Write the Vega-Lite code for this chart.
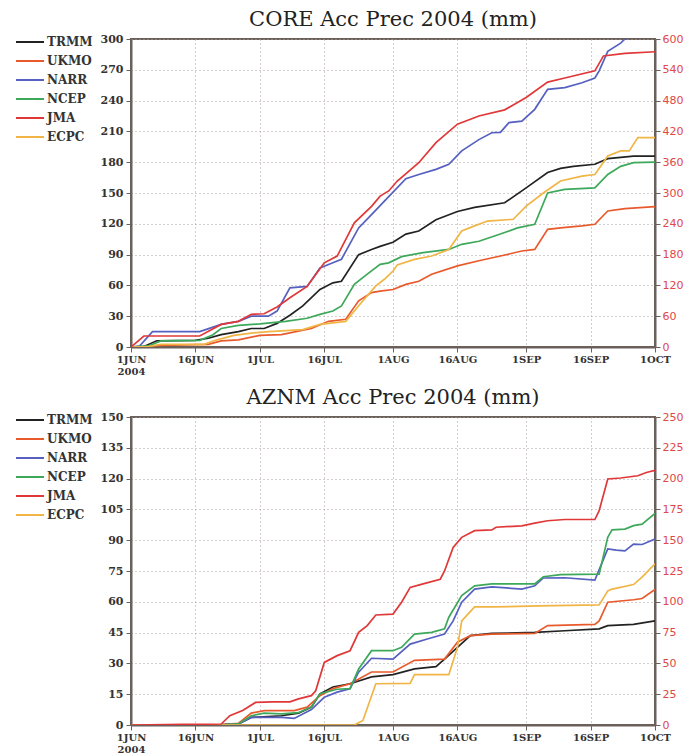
{
  "$schema": "https://vega.github.io/schema/vega-lite/v6.json",
  "padding": {"left": 14, "top": 8, "right": 0, "bottom": 0},
  "background": "white",
  "config": {
    "view": {"stroke": "#6b605b", "strokeWidth": 2},
    "title": {"font": "DejaVu Serif", "fontSize": 21, "fontWeight": "normal", "color": "#222", "offset": 3},
    "axis": {"domainColor": "#6b605b", "domainWidth": 2, "tickColor": "#6b605b", "tickSize": 5, "labelColor": "#333"}
  },
  "datasets": {
    "core": [
      {"model":"TRMM","day":0,"value":0},{"model":"TRMM","day":3,"value":0.5},{"model":"TRMM","day":6,"value":6},{"model":"TRMM","day":15,"value":6.5},{"model":"TRMM","day":18,"value":8.5},{"model":"TRMM","day":21,"value":12},{"model":"TRMM","day":25,"value":15},{"model":"TRMM","day":28,"value":18},{"model":"TRMM","day":31,"value":18},{"model":"TRMM","day":34,"value":23},{"model":"TRMM","day":37,"value":31},{"model":"TRMM","day":40,"value":40},{"model":"TRMM","day":44,"value":56},{"model":"TRMM","day":47,"value":62.5},{"model":"TRMM","day":49,"value":64},{"model":"TRMM","day":53,"value":90},{"model":"TRMM","day":56,"value":95},{"model":"TRMM","day":58,"value":98},{"model":"TRMM","day":61,"value":102},{"model":"TRMM","day":64,"value":110},{"model":"TRMM","day":67,"value":113},{"model":"TRMM","day":71,"value":124},{"model":"TRMM","day":76,"value":132},{"model":"TRMM","day":80,"value":136},{"model":"TRMM","day":87,"value":140.5},{"model":"TRMM","day":92,"value":155},{"model":"TRMM","day":97,"value":170},{"model":"TRMM","day":100,"value":174},{"model":"TRMM","day":103,"value":176},{"model":"TRMM","day":108,"value":178},{"model":"TRMM","day":111,"value":183.5},{"model":"TRMM","day":117,"value":186},{"model":"TRMM","day":122,"value":186},
      {"model":"UKMO","day":0,"value":0},{"model":"UKMO","day":7,"value":1.6},{"model":"UKMO","day":18,"value":2.6},{"model":"UKMO","day":21,"value":6},{"model":"UKMO","day":25,"value":7},{"model":"UKMO","day":30,"value":11.3},{"model":"UKMO","day":35,"value":12},{"model":"UKMO","day":42,"value":18},{"model":"UKMO","day":46,"value":25},{"model":"UKMO","day":50,"value":27},{"model":"UKMO","day":53,"value":45},{"model":"UKMO","day":56,"value":53},{"model":"UKMO","day":58,"value":54.5},{"model":"UKMO","day":61,"value":56},{"model":"UKMO","day":64,"value":61},{"model":"UKMO","day":67,"value":64},{"model":"UKMO","day":70,"value":70.8},{"model":"UKMO","day":76,"value":79},{"model":"UKMO","day":81,"value":84},{"model":"UKMO","day":86,"value":88.6},{"model":"UKMO","day":91,"value":93.5},{"model":"UKMO","day":94,"value":95},{"model":"UKMO","day":97,"value":114.6},{"model":"UKMO","day":100,"value":116},{"model":"UKMO","day":105,"value":118},{"model":"UKMO","day":108,"value":119.5},{"model":"UKMO","day":111,"value":132.5},{"model":"UKMO","day":115,"value":134.7},{"model":"UKMO","day":122,"value":136.7},
      {"model":"NARR","day":0,"value":0},{"model":"NARR","day":2,"value":1},{"model":"NARR","day":5,"value":15},{"model":"NARR","day":16,"value":15},{"model":"NARR","day":21,"value":22},{"model":"NARR","day":25,"value":25},{"model":"NARR","day":28,"value":30},{"model":"NARR","day":32,"value":30},{"model":"NARR","day":34,"value":35},{"model":"NARR","day":37,"value":57.6},{"model":"NARR","day":41,"value":59},{"model":"NARR","day":44,"value":77},{"model":"NARR","day":47,"value":82},{"model":"NARR","day":49,"value":85.5},{"model":"NARR","day":53,"value":116},{"model":"NARR","day":56,"value":129},{"model":"NARR","day":59,"value":142},{"model":"NARR","day":64,"value":164},{"model":"NARR","day":67,"value":168},{"model":"NARR","day":71,"value":173},{"model":"NARR","day":74,"value":178},{"model":"NARR","day":77,"value":191},{"model":"NARR","day":81,"value":202},{"model":"NARR","day":84,"value":208.7},{"model":"NARR","day":86,"value":209},{"model":"NARR","day":88,"value":218.5},{"model":"NARR","day":91,"value":220},{"model":"NARR","day":94,"value":231.5},{"model":"NARR","day":97,"value":251},{"model":"NARR","day":101,"value":252.6},{"model":"NARR","day":105,"value":257.4},{"model":"NARR","day":108,"value":262},{"model":"NARR","day":109,"value":269},{"model":"NARR","day":111,"value":288},{"model":"NARR","day":114,"value":296},{"model":"NARR","day":115,"value":300},{"model":"NARR","day":118,"value":305},{"model":"NARR","day":122,"value":310},
      {"model":"NCEP","day":0,"value":0},{"model":"NCEP","day":4,"value":1},{"model":"NCEP","day":7,"value":6},{"model":"NCEP","day":16,"value":6.5},{"model":"NCEP","day":19,"value":11.7},{"model":"NCEP","day":21,"value":18},{"model":"NCEP","day":25,"value":21},{"model":"NCEP","day":30,"value":22.5},{"model":"NCEP","day":36,"value":25},{"model":"NCEP","day":41,"value":28},{"model":"NCEP","day":44,"value":31.8},{"model":"NCEP","day":47,"value":35},{"model":"NCEP","day":49,"value":40},{"model":"NCEP","day":52,"value":61},{"model":"NCEP","day":55,"value":71},{"model":"NCEP","day":58,"value":80.5},{"model":"NCEP","day":60,"value":82},{"model":"NCEP","day":63,"value":88},{"model":"NCEP","day":68,"value":92},{"model":"NCEP","day":74,"value":95},{"model":"NCEP","day":77,"value":100},{"model":"NCEP","day":81,"value":103},{"model":"NCEP","day":86,"value":110},{"model":"NCEP","day":90,"value":116},{"model":"NCEP","day":94,"value":119.5},{"model":"NCEP","day":97,"value":150},{"model":"NCEP","day":101,"value":153.6},{"model":"NCEP","day":108,"value":155},{"model":"NCEP","day":111,"value":168},{"model":"NCEP","day":114,"value":176},{"model":"NCEP","day":117,"value":179.5},{"model":"NCEP","day":122,"value":180},
      {"model":"JMA","day":0,"value":0},{"model":"JMA","day":3,"value":21.4},{"model":"JMA","day":16,"value":21.4},{"model":"JMA","day":21,"value":44},{"model":"JMA","day":25,"value":50},{"model":"JMA","day":28,"value":63.6},{"model":"JMA","day":31,"value":64.8},{"model":"JMA","day":34,"value":78},{"model":"JMA","day":37,"value":96},{"model":"JMA","day":41,"value":118},{"model":"JMA","day":45,"value":164},{"model":"JMA","day":48,"value":177.2},{"model":"JMA","day":52,"value":242},{"model":"JMA","day":56,"value":274},{"model":"JMA","day":58,"value":294},{"model":"JMA","day":60,"value":304},{"model":"JMA","day":62,"value":323.4},{"model":"JMA","day":67,"value":359},{"model":"JMA","day":71,"value":398},{"model":"JMA","day":76,"value":434},{"model":"JMA","day":81,"value":450},{"model":"JMA","day":87,"value":462},{"model":"JMA","day":92,"value":486},{"model":"JMA","day":97,"value":516},{"model":"JMA","day":101,"value":524},{"model":"JMA","day":108,"value":538},{"model":"JMA","day":110,"value":567},{"model":"JMA","day":115,"value":572},{"model":"JMA","day":122,"value":575.2},
      {"model":"ECPC","day":0,"value":0},{"model":"ECPC","day":4,"value":0.5},{"model":"ECPC","day":7,"value":2.6},{"model":"ECPC","day":17,"value":2.6},{"model":"ECPC","day":20,"value":7},{"model":"ECPC","day":24,"value":11.3},{"model":"ECPC","day":28,"value":13.6},{"model":"ECPC","day":32,"value":15},{"model":"ECPC","day":40,"value":17},{"model":"ECPC","day":44,"value":22},{"model":"ECPC","day":50,"value":25},{"model":"ECPC","day":52,"value":35},{"model":"ECPC","day":54,"value":45},{"model":"ECPC","day":57,"value":59.5},{"model":"ECPC","day":59,"value":66},{"model":"ECPC","day":61,"value":74},{"model":"ECPC","day":62,"value":80},{"model":"ECPC","day":66,"value":85.4},{"model":"ECPC","day":70,"value":88.6},{"model":"ECPC","day":74,"value":95},{"model":"ECPC","day":77,"value":113},{"model":"ECPC","day":80,"value":118},{"model":"ECPC","day":83,"value":122.7},{"model":"ECPC","day":89,"value":124.4},{"model":"ECPC","day":92,"value":137.3},{"model":"ECPC","day":96,"value":150},{"model":"ECPC","day":100,"value":161.7},{"model":"ECPC","day":105,"value":166.5},{"model":"ECPC","day":108,"value":168},{"model":"ECPC","day":111,"value":186},{"model":"ECPC","day":114,"value":191},{"model":"ECPC","day":116,"value":191},{"model":"ECPC","day":118,"value":204},{"model":"ECPC","day":122,"value":204}
    ],
    "aznm": [
      {"model":"TRMM","day":0,"value":0},{"model":"TRMM","day":21,"value":0.2},{"model":"TRMM","day":25,"value":0.5},{"model":"TRMM","day":28,"value":3.7},{"model":"TRMM","day":35,"value":4.5},{"model":"TRMM","day":39,"value":5.8},{"model":"TRMM","day":42,"value":8.7},{"model":"TRMM","day":44,"value":15.2},{"model":"TRMM","day":47,"value":18.5},{"model":"TRMM","day":51,"value":20.1},{"model":"TRMM","day":56,"value":23.4},{"model":"TRMM","day":61,"value":24.5},{"model":"TRMM","day":66,"value":27.3},{"model":"TRMM","day":71,"value":28.4},{"model":"TRMM","day":73,"value":32.1},{"model":"TRMM","day":76,"value":37.8},{"model":"TRMM","day":79,"value":43.5},{"model":"TRMM","day":84,"value":44.6},{"model":"TRMM","day":94,"value":45.1},{"model":"TRMM","day":101,"value":45.9},{"model":"TRMM","day":109,"value":46.8},{"model":"TRMM","day":111,"value":48.4},{"model":"TRMM","day":117,"value":49},{"model":"TRMM","day":122,"value":50.7},
      {"model":"UKMO","day":0,"value":0},{"model":"UKMO","day":21,"value":0.2},{"model":"UKMO","day":25,"value":0.8},{"model":"UKMO","day":28,"value":5.8},{"model":"UKMO","day":31,"value":7},{"model":"UKMO","day":38,"value":7},{"model":"UKMO","day":41,"value":8.7},{"model":"UKMO","day":44,"value":14.3},{"model":"UKMO","day":47,"value":17.7},{"model":"UKMO","day":51,"value":20.1},{"model":"UKMO","day":56,"value":25.8},{"model":"UKMO","day":61,"value":25.8},{"model":"UKMO","day":66,"value":31.5},{"model":"UKMO","day":73,"value":32.1},{"model":"UKMO","day":76,"value":40.3},{"model":"UKMO","day":79,"value":43.5},{"model":"UKMO","day":84,"value":44.3},{"model":"UKMO","day":94,"value":44.6},{"model":"UKMO","day":97,"value":48.4},{"model":"UKMO","day":108,"value":49},{"model":"UKMO","day":109,"value":50.7},{"model":"UKMO","day":111,"value":59.8},{"model":"UKMO","day":117,"value":61},{"model":"UKMO","day":119,"value":61.6},{"model":"UKMO","day":122,"value":66},
      {"model":"NARR","day":0,"value":0},{"model":"NARR","day":22,"value":0.2},{"model":"NARR","day":25,"value":0.5},{"model":"NARR","day":28,"value":3.7},{"model":"NARR","day":35,"value":3.7},{"model":"NARR","day":38,"value":3.2},{"model":"NARR","day":42,"value":7.5},{"model":"NARR","day":45,"value":13.5},{"model":"NARR","day":48,"value":16},{"model":"NARR","day":51,"value":17.7},{"model":"NARR","day":53,"value":25.7},{"model":"NARR","day":56,"value":32.5},{"model":"NARR","day":61,"value":32.1},{"model":"NARR","day":65,"value":39.4},{"model":"NARR","day":69,"value":41.9},{"model":"NARR","day":73,"value":44.3},{"model":"NARR","day":75,"value":50.7},{"model":"NARR","day":77,"value":59.8},{"model":"NARR","day":80,"value":66.2},{"model":"NARR","day":84,"value":67.3},{"model":"NARR","day":91,"value":66.2},{"model":"NARR","day":94,"value":67.8},{"model":"NARR","day":96,"value":71.6},{"model":"NARR","day":101,"value":71.7},{"model":"NARR","day":108,"value":70.6},{"model":"NARR","day":111,"value":85.7},{"model":"NARR","day":113,"value":85.2},{"model":"NARR","day":115,"value":84.8},{"model":"NARR","day":117,"value":88.1},{"model":"NARR","day":119,"value":87.9},{"model":"NARR","day":122,"value":90.6},
      {"model":"NCEP","day":0,"value":0},{"model":"NCEP","day":22,"value":0.2},{"model":"NCEP","day":25,"value":0.5},{"model":"NCEP","day":28,"value":4.5},{"model":"NCEP","day":31,"value":5.8},{"model":"NCEP","day":35,"value":5.4},{"model":"NCEP","day":39,"value":6},{"model":"NCEP","day":42,"value":8.7},{"model":"NCEP","day":44,"value":15.2},{"model":"NCEP","day":48,"value":17.4},{"model":"NCEP","day":51,"value":17.7},{"model":"NCEP","day":53,"value":27.3},{"model":"NCEP","day":56,"value":36.2},{"model":"NCEP","day":61,"value":36.2},{"model":"NCEP","day":63,"value":37.8},{"model":"NCEP","day":66,"value":44.3},{"model":"NCEP","day":70,"value":45.1},{"model":"NCEP","day":73,"value":46.8},{"model":"NCEP","day":74,"value":52.5},{"model":"NCEP","day":77,"value":63},{"model":"NCEP","day":80,"value":67.8},{"model":"NCEP","day":84,"value":68.7},{"model":"NCEP","day":94,"value":68.7},{"model":"NCEP","day":96,"value":72.2},{"model":"NCEP","day":100,"value":73.2},{"model":"NCEP","day":109,"value":73.5},{"model":"NCEP","day":111,"value":91.4},{"model":"NCEP","day":112,"value":95},{"model":"NCEP","day":115,"value":95.4},{"model":"NCEP","day":117,"value":97.1},{"model":"NCEP","day":119,"value":97.8},{"model":"NCEP","day":122,"value":103},
      {"model":"JMA","day":0,"value":0},{"model":"JMA","day":12,"value":0.5},{"model":"JMA","day":21,"value":0.8},{"model":"JMA","day":23,"value":7.5},{"model":"JMA","day":26,"value":11.7},{"model":"JMA","day":29,"value":18.3},{"model":"JMA","day":33,"value":18.8},{"model":"JMA","day":37,"value":18.8},{"model":"JMA","day":39,"value":21.2},{"model":"JMA","day":42,"value":23.8},{"model":"JMA","day":43,"value":27.8},{"model":"JMA","day":45,"value":50.8},{"model":"JMA","day":48,"value":56.3},{"model":"JMA","day":51,"value":60.3},{"model":"JMA","day":53,"value":75.2},{"model":"JMA","day":55,"value":80.7},{"model":"JMA","day":57,"value":89.3},{"model":"JMA","day":61,"value":90},{"model":"JMA","day":63,"value":99.7},{"model":"JMA","day":65,"value":111.7},{"model":"JMA","day":68,"value":114.5},{"model":"JMA","day":72,"value":118.3},{"model":"JMA","day":73,"value":125},{"model":"JMA","day":75,"value":144.2},{"model":"JMA","day":77,"value":152.3},{"model":"JMA","day":80,"value":157.7},{"model":"JMA","day":84,"value":158.3},{"model":"JMA","day":85,"value":160.5},{"model":"JMA","day":91,"value":161.7},{"model":"JMA","day":94,"value":163.8},{"model":"JMA","day":97,"value":165.8},{"model":"JMA","day":101,"value":166.8},{"model":"JMA","day":108,"value":166.8},{"model":"JMA","day":109,"value":174},{"model":"JMA","day":111,"value":199.7},{"model":"JMA","day":114,"value":200.5},{"model":"JMA","day":118,"value":202.3},{"model":"JMA","day":120,"value":205},{"model":"JMA","day":122,"value":206.7},
      {"model":"ECPC","day":0,"value":0},{"model":"ECPC","day":52,"value":0},{"model":"ECPC","day":54,"value":2.2},{"model":"ECPC","day":57,"value":20.1},{"model":"ECPC","day":65,"value":20.3},{"model":"ECPC","day":66,"value":24.5},{"model":"ECPC","day":74,"value":24.5},{"model":"ECPC","day":76,"value":37.8},{"model":"ECPC","day":77,"value":50.7},{"model":"ECPC","day":80,"value":57.5},{"model":"ECPC","day":84,"value":57.5},{"model":"ECPC","day":95,"value":58},{"model":"ECPC","day":109,"value":58.5},{"model":"ECPC","day":111,"value":65.3},{"model":"ECPC","day":112,"value":66.2},{"model":"ECPC","day":117,"value":68.4},{"model":"ECPC","day":119,"value":72},{"model":"ECPC","day":122,"value":78.5}
    ]
  },
  "spacing": 9,
  "resolve": {"scale": {"color": "independent"}, "legend": {"color": "independent"}},
  "vconcat": [
    {
      "title": "CORE Acc Prec 2004 (mm)",
      "width": 524, "height": 308,
      "data": {"name": "core"},
      "layer": [
        {
          "transform": [{"filter": "datum.model != 'JMA'"}],
          "mark": {"type": "line", "clip": true, "strokeWidth": 1.7},
          "encoding": {
            "x": {"field": "day", "type": "quantitative", "scale": {"domain": [0, 122], "nice": false},
              "axis": {"title": null, "values": [0,15,30,45,61,76,92,107,122], "labelExpr": "datum.value == 0 ? ['1JUN','2004'] : datum.value == 15 ? '16JUN' : datum.value == 30 ? '1JUL' : datum.value == 45 ? '16JUL' : datum.value == 61 ? '1AUG' : datum.value == 76 ? '16AUG' : datum.value == 92 ? '1SEP' : datum.value == 107 ? '16SEP' : '1OCT'", "labelFlush": false, "labelOverlap": false, "grid": true, "gridDash": [1, 3], "gridColor": "#a89c9c", "labelFont": "DejaVu Serif", "labelFontWeight": "bold", "labelFontSize": 10, "labelPadding": 2}},
            "y": {"field": "value", "type": "quantitative", "scale": {"domain": [0, 300], "nice": false},
              "axis": {"title": null, "values": [0,30,60,90,120,150,180,210,240,270,300], "grid": true, "gridDash": [1, 3], "gridColor": "#a89c9c", "labelFont": "DejaVu Serif", "labelFontWeight": "bold", "labelFontSize": 11, "labelPadding": 3}},
            "color": {"field": "model", "type": "nominal",
              "scale": {"domain": ["TRMM","UKMO","NARR","NCEP","JMA","ECPC"], "range": ["#222222","#e85a2c","#5560c0","#3da85a","#e03838","#f0b545"]},
              "legend": {"orient": "none", "legendX": -116, "legendY": -5, "title": null, "symbolType": "M-1,0H3", "symbolSize": 196, "symbolStrokeWidth": 2, "labelOffset": 16, "rowPadding": 5, "labelFont": "DejaVu Serif", "labelFontWeight": "bold", "labelFontSize": 12, "labelColor": "#333"}}
          }
        },
        {
          "transform": [{"filter": "datum.model == 'JMA'"}],
          "mark": {"type": "line", "clip": true, "strokeWidth": 1.7},
          "encoding": {
            "x": {"field": "day", "type": "quantitative", "scale": {"domain": [0, 122], "nice": false}},
            "y": {"field": "value", "type": "quantitative", "scale": {"domain": [0, 600], "nice": false},
              "axis": {"title": null, "orient": "right", "values": [0,60,120,180,240,300,360,420,480,540,600], "grid": false, "labelColor": "#e04848", "labelFont": "DejaVu Sans", "labelFontSize": 11, "labelPadding": 2}},
            "color": {"field": "model", "type": "nominal",
              "scale": {"domain": ["TRMM","UKMO","NARR","NCEP","JMA","ECPC"], "range": ["#222222","#e85a2c","#5560c0","#3da85a","#e03838","#f0b545"]},
              "legend": {"orient": "none", "legendX": -116, "legendY": -5, "title": null, "symbolType": "M-1,0H3", "symbolSize": 196, "symbolStrokeWidth": 2, "labelOffset": 16, "rowPadding": 5, "labelFont": "DejaVu Serif", "labelFontWeight": "bold", "labelFontSize": 12, "labelColor": "#333"}}
          }
        }
      ],
      "resolve": {"scale": {"y": "independent"}}
    },
    {
      "title": "AZNM Acc Prec 2004 (mm)",
      "width": 524, "height": 308,
      "data": {"name": "aznm"},
      "layer": [
        {
          "transform": [{"filter": "datum.model != 'JMA'"}],
          "mark": {"type": "line", "clip": true, "strokeWidth": 1.7},
          "encoding": {
            "x": {"field": "day", "type": "quantitative", "scale": {"domain": [0, 122], "nice": false},
              "axis": {"title": null, "values": [0,15,30,45,61,76,92,107,122], "labelExpr": "datum.value == 0 ? ['1JUN','2004'] : datum.value == 15 ? '16JUN' : datum.value == 30 ? '1JUL' : datum.value == 45 ? '16JUL' : datum.value == 61 ? '1AUG' : datum.value == 76 ? '16AUG' : datum.value == 92 ? '1SEP' : datum.value == 107 ? '16SEP' : '1OCT'", "labelFlush": false, "labelOverlap": false, "grid": true, "gridDash": [1, 3], "gridColor": "#a89c9c", "labelFont": "DejaVu Serif", "labelFontWeight": "bold", "labelFontSize": 10, "labelPadding": 2}},
            "y": {"field": "value", "type": "quantitative", "scale": {"domain": [0, 150], "nice": false},
              "axis": {"title": null, "values": [0,15,30,45,60,75,90,105,120,135,150], "grid": true, "gridDash": [1, 3], "gridColor": "#a89c9c", "labelFont": "DejaVu Serif", "labelFontWeight": "bold", "labelFontSize": 11, "labelPadding": 3}},
            "color": {"field": "model", "type": "nominal",
              "scale": {"domain": ["TRMM","UKMO","NARR","NCEP","JMA","ECPC"], "range": ["#222222","#e85a2c","#5560c0","#3da85a","#e03838","#f0b545"]},
              "legend": {"orient": "none", "legendX": -116, "legendY": -5, "title": null, "symbolType": "M-1,0H3", "symbolSize": 196, "symbolStrokeWidth": 2, "labelOffset": 16, "rowPadding": 5, "labelFont": "DejaVu Serif", "labelFontWeight": "bold", "labelFontSize": 12, "labelColor": "#333"}}
          }
        },
        {
          "transform": [{"filter": "datum.model == 'JMA'"}],
          "mark": {"type": "line", "clip": true, "strokeWidth": 1.7},
          "encoding": {
            "x": {"field": "day", "type": "quantitative", "scale": {"domain": [0, 122], "nice": false}},
            "y": {"field": "value", "type": "quantitative", "scale": {"domain": [0, 250], "nice": false},
              "axis": {"title": null, "orient": "right", "values": [0,25,50,75,100,125,150,175,200,225,250], "grid": false, "labelColor": "#e04848", "labelFont": "DejaVu Sans", "labelFontSize": 11, "labelPadding": 2}},
            "color": {"field": "model", "type": "nominal",
              "scale": {"domain": ["TRMM","UKMO","NARR","NCEP","JMA","ECPC"], "range": ["#222222","#e85a2c","#5560c0","#3da85a","#e03838","#f0b545"]},
              "legend": {"orient": "none", "legendX": -116, "legendY": -5, "title": null, "symbolType": "M-1,0H3", "symbolSize": 196, "symbolStrokeWidth": 2, "labelOffset": 16, "rowPadding": 5, "labelFont": "DejaVu Serif", "labelFontWeight": "bold", "labelFontSize": 12, "labelColor": "#333"}}
          }
        }
      ],
      "resolve": {"scale": {"y": "independent"}}
    }
  ]
}
